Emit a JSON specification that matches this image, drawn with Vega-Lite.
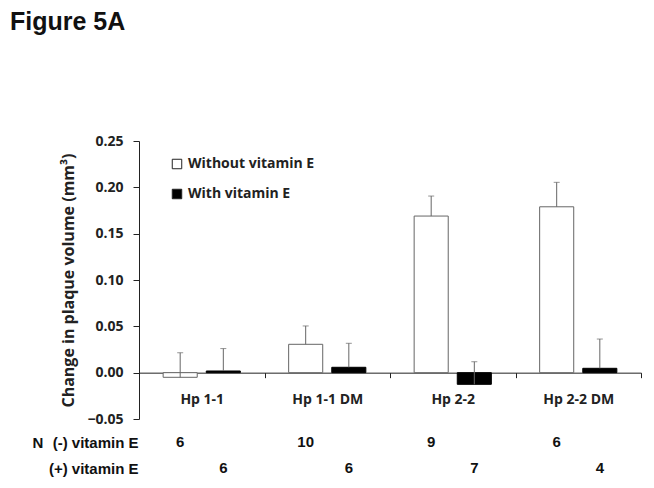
{
  "$schema": "https://vega.github.io/schema/vega-lite/v6.json",
  "padding": {"left": 10, "top": 10, "right": 0, "bottom": 0},
  "background": "white",
  "title": {"text": "Figure 5A", "anchor": "start", "frame": "group", "dx": -129, "offset": 99, "font": "Liberation Sans", "fontSize": 25, "fontWeight": "bold", "color": "#111"},
  "config": {"view": {"stroke": null}, "font": "Open Sans"},
  "bounds": "flush",
  "spacing": 10,
  "data": {"values": [
    {"group": "Hp 1-1", "cond": "Without vitamin E", "value": -0.005, "upper": 0.0215, "n": 6},
    {"group": "Hp 1-1", "cond": "With vitamin E", "value": 0.0018, "upper": 0.026, "n": 6},
    {"group": "Hp 1-1 DM", "cond": "Without vitamin E", "value": 0.0306, "upper": 0.0504, "n": 10},
    {"group": "Hp 1-1 DM", "cond": "With vitamin E", "value": 0.0058, "upper": 0.0317, "n": 6},
    {"group": "Hp 2-2", "cond": "Without vitamin E", "value": 0.169, "upper": 0.1906, "n": 9},
    {"group": "Hp 2-2", "cond": "With vitamin E", "value": -0.0126, "upper": 0.0118, "n": 7},
    {"group": "Hp 2-2 DM", "cond": "Without vitamin E", "value": 0.179, "upper": 0.2054, "n": 6},
    {"group": "Hp 2-2 DM", "cond": "With vitamin E", "value": 0.0047, "upper": 0.0363, "n": 4}
  ]},
  "vconcat": [
    {
      "width": 502,
      "height": 278,
      "encoding": {
        "x": {"field": "group", "type": "nominal", "sort": null,
          "scale": {"paddingInner": 0, "paddingOuter": 0},
          "axis": {"title": null, "labelAngle": 0, "offset": -46.33, "tickBand": "extent", "tickSize": 5, "domainColor": "#222", "tickColor": "#222", "labelFontSize": 14, "labelFontWeight": "bold", "labelColor": "#222", "labelPadding": 15}},
        "xOffset": {"field": "cond", "type": "nominal", "sort": ["Without vitamin E", "With vitamin E"],
          "scale": {"paddingInner": 0.21, "paddingOuter": 0.56}}
      },
      "layer": [
        {
          "mark": {"type": "bar", "strokeWidth": 1},
          "encoding": {
            "y": {"field": "value", "type": "quantitative",
              "scale": {"domain": [-0.05, 0.25], "nice": false, "zero": false},
              "axis": {"title": "Change in plaque volume (mm³)", "values": [-0.05, 0, 0.05, 0.1, 0.15, 0.2, 0.25], "format": ".2f", "grid": false, "tickSize": 6, "domainColor": "#222", "tickColor": "#222", "labelFontSize": 14, "labelFontWeight": "bold", "labelColor": "#222", "labelPadding": 10, "titleFontSize": 16, "titleFontWeight": "bold", "titleColor": "#222", "titlePadding": 10}},
            "y2": {"datum": 0},
            "fill": {"field": "cond", "type": "nominal", "sort": ["Without vitamin E", "With vitamin E"],
              "scale": {"range": ["white", "black"]},
              "legend": {"title": null, "orient": "none", "legendX": 31, "legendY": 16, "symbolType": "square", "symbolSize": 90, "symbolStrokeColor": "#222", "symbolStrokeWidth": 1, "labelFontSize": 14, "labelFontWeight": "bold", "labelColor": "#222", "rowPadding": 16, "padding": 0, "labelOffset": 4}},
            "stroke": {"field": "cond", "type": "nominal", "sort": ["Without vitamin E", "With vitamin E"],
              "scale": {"range": ["#666", "black"]}, "legend": null}
          }
        },
        {
          "mark": {"type": "rule", "color": "#666", "strokeWidth": 1},
          "encoding": {
            "y": {"field": "value", "type": "quantitative"},
            "y2": {"field": "upper"}
          }
        },
        {
          "mark": {"type": "tick", "color": "#666", "thickness": 1, "size": 6},
          "encoding": {
            "y": {"field": "upper", "type": "quantitative"}
          }
        }
      ]
    },
    {
      "width": 502,
      "height": 52,
      "mark": {"type": "text", "fontSize": 15, "fontWeight": "bold", "font": "Liberation Sans", "color": "#111"},
      "encoding": {
        "x": {"field": "group", "type": "nominal", "sort": null, "scale": {"paddingInner": 0, "paddingOuter": 0}, "axis": null},
        "xOffset": {"field": "cond", "type": "nominal", "sort": ["Without vitamin E", "With vitamin E"], "scale": {"paddingInner": 0.21, "paddingOuter": 0.56}},
        "y": {"field": "cond", "type": "nominal", "sort": ["Without vitamin E", "With vitamin E"],
          "scale": {"paddingInner": 0, "paddingOuter": 0},
          "axis": {"domain": false, "ticks": false, "labelFont": "Liberation Sans", "labelFontSize": 15, "labelFontWeight": "bold", "labelColor": "#111", "labelPadding": 1,
            "labelExpr": "datum.value == 'Without vitamin E' ? '(-) vitamin E' : '(+) vitamin E'",
            "title": "N", "titleFont": "Liberation Sans", "titleAngle": 0, "titleX": -107, "titleY": 13, "titleAlign": "left", "titleBaseline": "middle", "titleFontSize": 15, "titleFontWeight": "bold", "titleColor": "#111"}},
        "text": {"field": "n", "type": "quantitative"}
      }
    }
  ]
}
